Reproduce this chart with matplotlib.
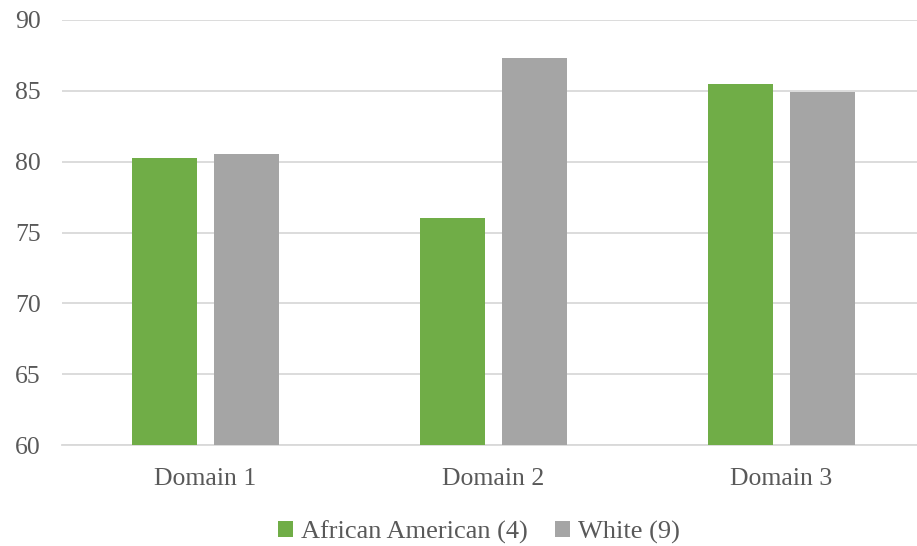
import matplotlib
matplotlib.use("Agg")
import matplotlib.pyplot as plt
import numpy as np

categories = ["Domain 1", "Domain 2", "Domain 3"]
african_american = [80.26, 76.02, 85.48]
white = [80.54, 87.32, 84.95]
series_labels = ["African American (4)", "White (9)"]
yticks = [60, 65, 70, 75, 80, 85, 90]

W, H = 917, 546
fig = plt.figure(figsize=(W / 100, H / 100), dpi=100)
plt.rcParams['font.family'] = ['Liberation Serif', 'DejaVu Serif']
left, right, top, bottom = 61.5, 917, 20, 445
ax = fig.add_axes([left / W, 1 - bottom / H, (right - left) / W, (bottom - top) / H])

x = np.arange(len(categories))
bw = 0.2257
off = 0.1424
ax.bar(x - off, african_american, bw, color="#70AD47", label=series_labels[0], zorder=3)
ax.bar(x + off, white, bw, color="#A5A5A5", label=series_labels[1], zorder=3)

ax.set_ylim(60, 90)
ax.set_xlim(-0.5, 2.5 - (925.5 - 917) / 288)
ax.set_yticks(yticks)
ax.set_xticks(x)
ax.set_xticklabels(categories)
ax.yaxis.grid(True, color="#D9D9D9", linewidth=1.3, zorder=0)
for s in ["top", "right", "left"]:
    ax.spines[s].set_visible(False)
ax.spines["bottom"].set_color("#D9D9D9")
ax.spines["bottom"].set_linewidth(1.3)
ax.tick_params(axis="both", length=0, labelsize=18.5, labelcolor="#595959")
ax.tick_params(axis="x", pad=16.5)
ax.tick_params(axis="y", pad=15)

leg = fig.legend(loc="center", bbox_to_anchor=(479 / W, 1 - 532 / H), ncol=2, frameon=False,
                 fontsize=19, handlelength=0.55, handleheight=0.55, handletextpad=0.3,
                 columnspacing=1.05)
for t in leg.get_texts():
    t.set_color("#595959")

fig.savefig("out.png", dpi=100)
